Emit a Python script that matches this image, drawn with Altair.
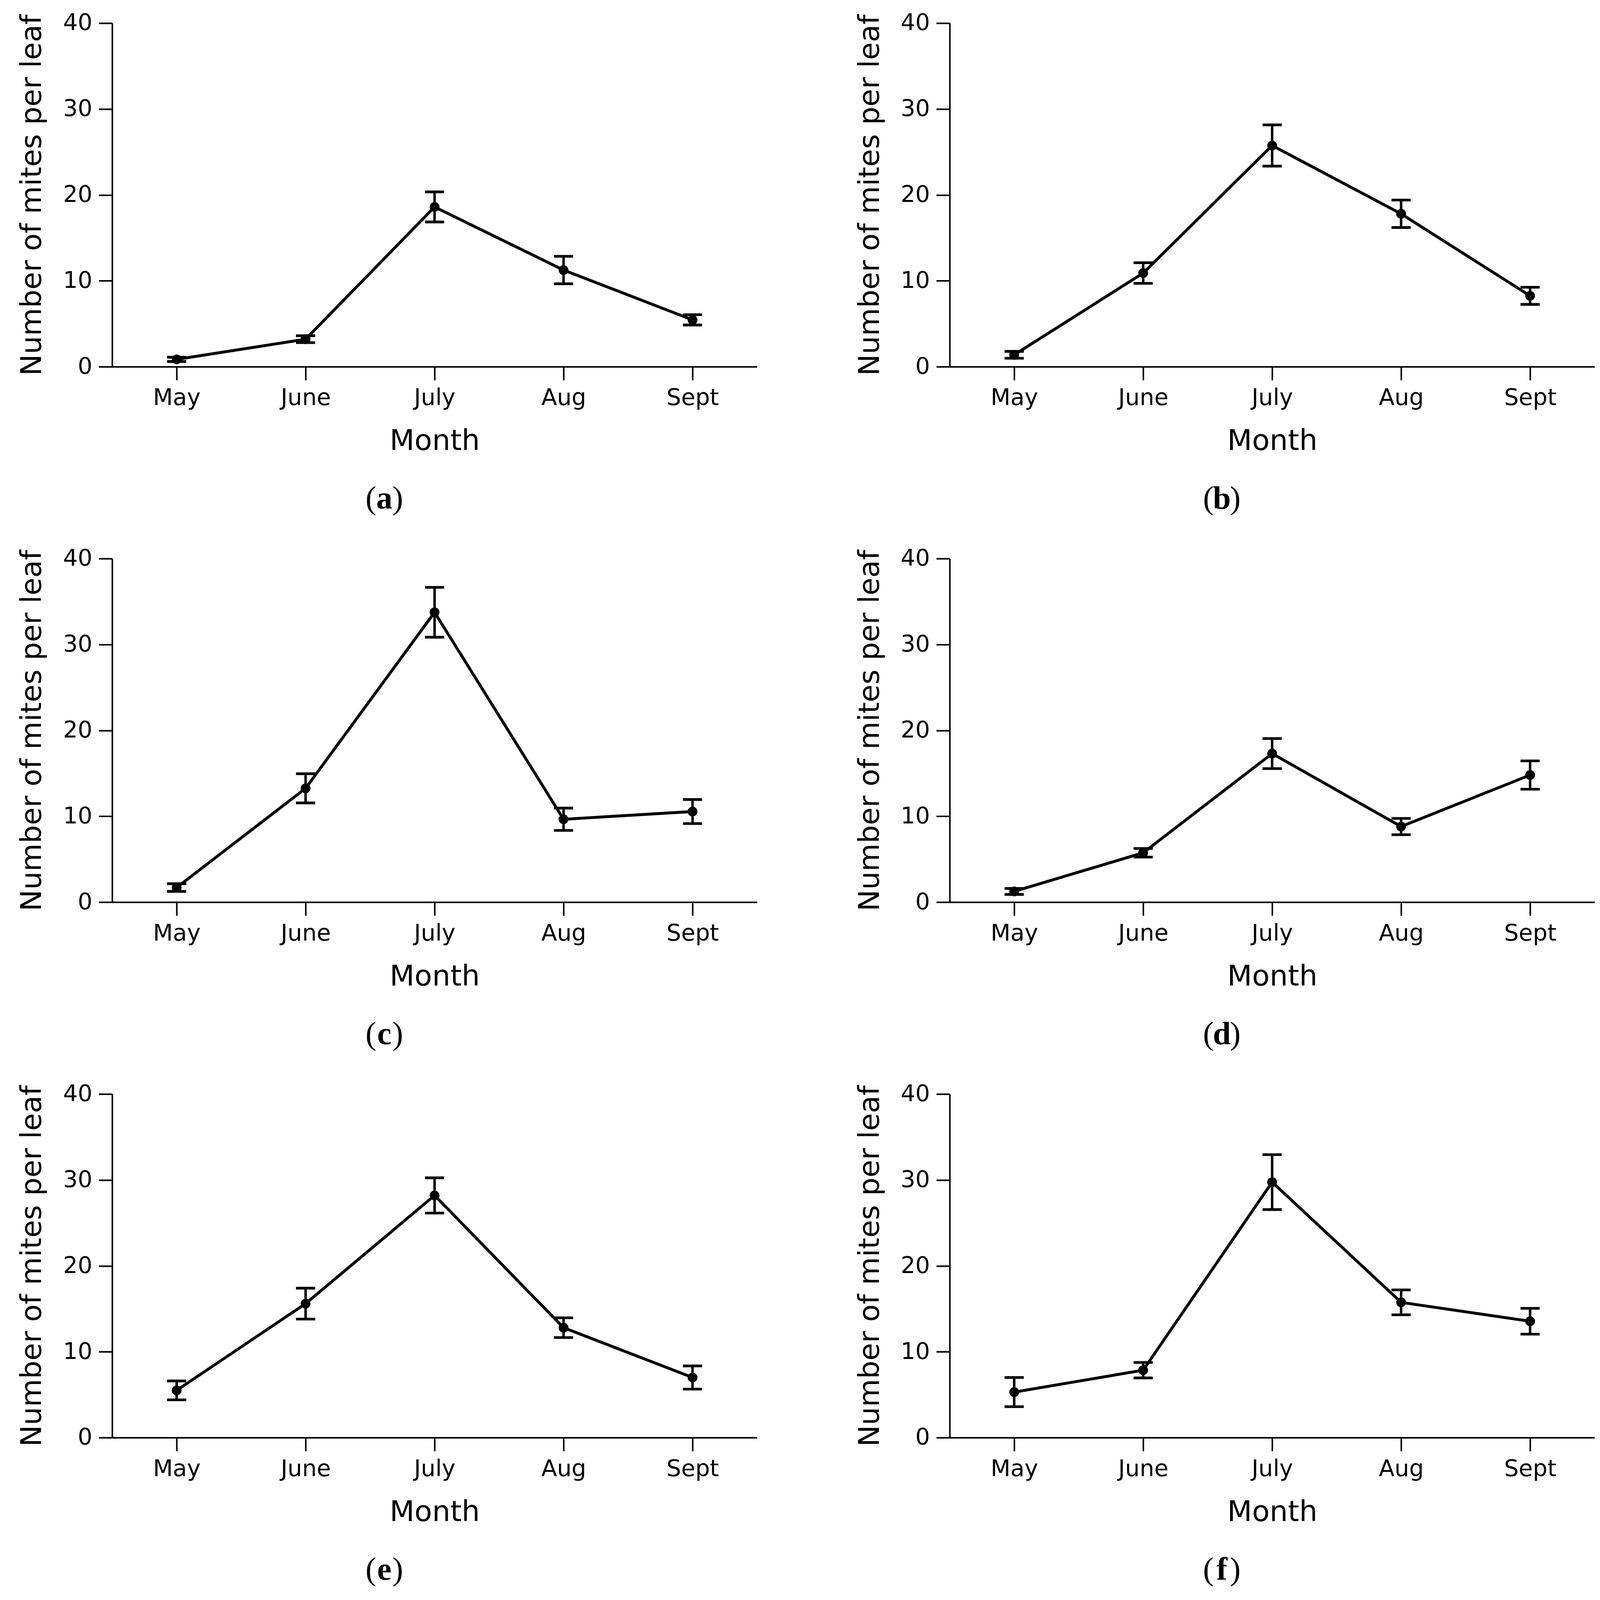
import json
import altair as alt
import pandas as pd

months = ["May", "June", "July", "Aug", "Sept"]

a_mean = [0.85, 3.2, 18.6, 11.25, 5.45]
a_err = [0.25, 0.4, 1.75, 1.6, 0.6]
b_mean = [1.38, 10.9, 25.75, 17.8, 8.25]
b_err = [0.4, 1.2, 2.4, 1.6, 1.0]
c_mean = [1.7, 13.25, 33.75, 9.65, 10.55]
c_err = [0.45, 1.7, 2.9, 1.3, 1.4]
d_mean = [1.25, 5.75, 17.3, 8.8, 14.8]
d_err = [0.35, 0.5, 1.75, 0.95, 1.65]
e_mean = [5.5, 15.6, 28.2, 12.8, 7.0]
e_err = [1.1, 1.8, 2.05, 1.15, 1.35]
f_mean = [5.3, 7.85, 29.75, 15.75, 13.55]
f_err = [1.7, 0.9, 3.2, 1.45, 1.5]

letters = ["a", "b", "c", "d", "e", "f"]
y_ticks = [0, 10, 20, 30, 40]

W, H = 1680, 895
YTITLE = "Number of mites per leaf"
LABEL_EXPR = json.dumps(months) + "[datum.value]"


def panel(mean, err, letter):
    df = pd.DataFrame({
        "idx": list(range(len(months))),
        "Month": months,
        "mean": mean,
        "lo": [m - e for m, e in zip(mean, err)],
        "hi": [m + e for m, e in zip(mean, err)],
    })
    yscale = alt.Scale(domain=[0, 40], nice=False)
    yaxis = alt.Axis(values=y_ticks, title=YTITLE)
    base = alt.Chart(df).encode(
        x=alt.X("idx:Q",
                scale=alt.Scale(domain=[-0.5, len(months) - 0.5], nice=False, zero=False),
                axis=alt.Axis(title="Month", values=list(range(len(months))),
                              labelExpr=LABEL_EXPR, labelAngle=0, labelFlush=False))
    )
    line = base.mark_line(color="black", strokeWidth=7.5).encode(
        y=alt.Y("mean:Q", scale=yscale, axis=yaxis, title=YTITLE))
    pts = base.mark_circle(color="black", opacity=1, size=650).encode(
        y=alt.Y("mean:Q", title=YTITLE))
    rule = base.mark_rule(color="black", strokeWidth=6.5).encode(
        y=alt.Y("lo:Q", title=YTITLE), y2="hi:Q")
    cap_lo = base.mark_tick(color="black", size=50, thickness=7, opacity=1,
                            orient="horizontal").encode(
        y=alt.Y("lo:Q", title=YTITLE))
    cap_hi = base.mark_tick(color="black", size=50, thickness=7, opacity=1,
                            orient="horizontal").encode(
        y=alt.Y("hi:Q", title=YTITLE))

    cdf = pd.DataFrame({"letter": [letter]})
    cap = alt.Chart(cdf)
    cx, cy = 709, H + 370
    common = dict(font="Liberation Serif", fontSize=84, color="black", baseline="alphabetic")
    t_open = cap.mark_text(text="(", align="right", **common).encode(
        x=alt.value(cx - 21), y=alt.value(cy))
    t_letter = cap.mark_text(fontWeight="bold", align="center", **common).encode(
        text="letter:N", x=alt.value(cx), y=alt.value(cy))
    t_close = cap.mark_text(text=")", align="left", **common).encode(
        x=alt.value(cx + 21), y=alt.value(cy))

    return alt.layer(line, rule, cap_lo, cap_hi, pts, t_open, t_letter, t_close).properties(
        width=W, height=H)


panels = [
    panel(a_mean, a_err, "a"),
    panel(b_mean, b_err, "b"),
    panel(c_mean, c_err, "c"),
    panel(d_mean, d_err, "d"),
    panel(e_mean, e_err, "e"),
    panel(f_mean, f_err, "f"),
]

chart = alt.concat(
    *panels, columns=2, spacing={"row": 500, "column": 502}, bounds="flush",
    padding={"left": 38, "top": -15, "right": 5, "bottom": 5},
    background="white",
).configure_axis(
    labelFont="DejaVu Sans", titleFont="DejaVu Sans", labelFontSize=60,
    titleFontSize=75, titleFontWeight="normal", labelColor="black",
    titleColor="black", domainColor="black", tickColor="black",
    domainWidth=4, tickWidth=4, tickSize=35, grid=False,
).configure_axisX(
    labelPadding=18, titlePadding=46,
).configure_axisY(
    labelPadding=17, titlePadding=41,
).configure_view(
    stroke="transparent",
)

chart.save("out.html", embed_options={"renderer": "svg", "actions": False})
